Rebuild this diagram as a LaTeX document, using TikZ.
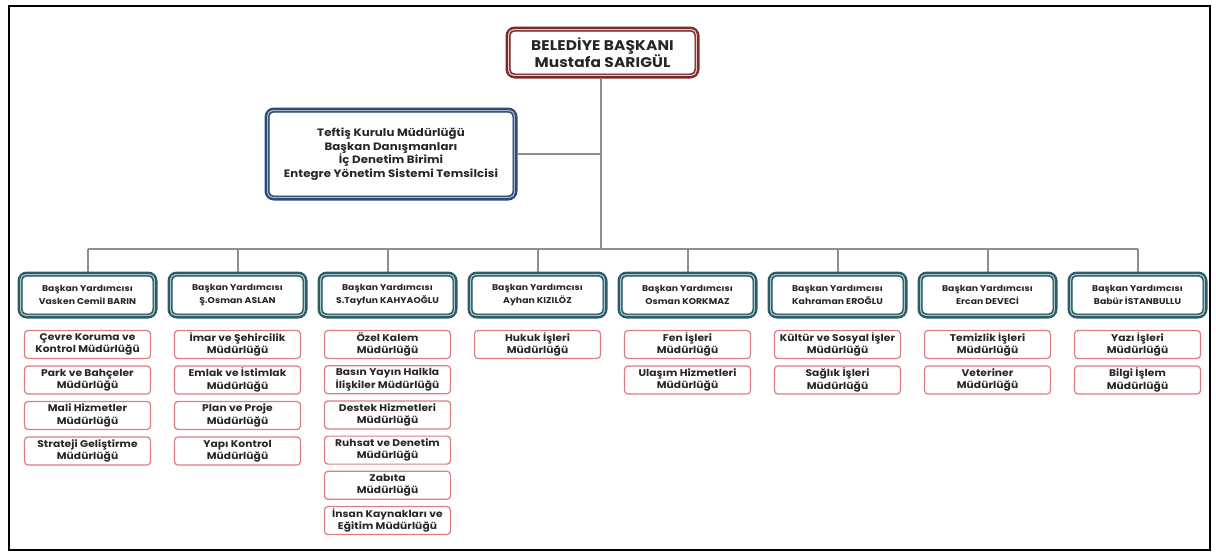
\documentclass[tikz,border=0pt]{standalone}
\usepackage{fontspec}
\setmainfont{Poppins}[FakeStretch=1.1,LetterSpace=0.8]
\usetikzlibrary{backgrounds}
\definecolor{linegray}{HTML}{8E8E8E}
\definecolor{teald}{HTML}{2D5C66}
\definecolor{teall}{HTML}{A9C7CE}
\definecolor{navyd}{HTML}{2C4B75}
\definecolor{navyl}{HTML}{A3B6CF}
\definecolor{maroond}{HTML}{7A2B2B}
\definecolor{maroonl}{HTML}{E6C9C9}
\definecolor{subred}{HTML}{DE7C83}
\definecolor{txt}{HTML}{262626}
\newcommand\innerframe[3]{%
  \draw[#2,line width=1.3pt,rounded corners=5pt] ([xshift=3.2pt,yshift=-3.2pt]#1.north west) rectangle ([xshift=-3.2pt,yshift=3.2pt]#1.south east);
  \draw[#3,line width=0.7pt,rounded corners=4pt] ([xshift=4.3pt,yshift=-4.3pt]#1.north west) rectangle ([xshift=-4.3pt,yshift=4.3pt]#1.south east);}
\tikzset{
  framed/.style={rounded corners=7pt, fill=white, align=center, text=txt, inner sep=0pt, line width=5pt},
  mayorbox/.style={framed, draw=maroond, minimum width=189pt, minimum height=47pt, font=\bfseries\fontsize{14}{15}\selectfont},
  staffbox/.style={framed, draw=navyd, minimum width=248pt, minimum height=88pt, font=\bfseries\fontsize{10.7}{13.5}\selectfont},
  depbox/.style={framed, draw=teald, minimum width=135pt, minimum height=42pt, font=\bfseries\fontsize{8.4}{12.5}\selectfont},
  subbox/.style={draw=subred, line width=1.2pt, rounded corners=3.5pt, fill=white, minimum width=126pt, minimum height=28pt, align=center, inner sep=0pt, text=txt, font=\bfseries\fontsize{9.7}{12.5}\selectfont},
  conn/.style={draw=linegray, line width=2pt},
  outerframe/.style={draw=black, line width=2pt}
}
\begin{document}
\begin{tikzpicture}[x=1pt,y=-1pt]
\useasboundingbox (0,0) rectangle (1216,552);
\draw[outerframe] (9,6) rectangle (1210,550);

\node[mayorbox] (mayor) at (602.5,52.5) {BELEDİYE BAŞKANI\\Mustafa SARIGÜL};
\innerframe{mayor}{maroonl}{maroond}
\node[staffbox] (staff) at (391,154) {Teftiş Kurulu Müdürlüğü\\Başkan Danışmanları\\İç Denetim Birimi\\Entegre Yönetim Sistemi Temsilcisi};
\innerframe{staff}{navyl}{navyd}

\foreach \n [count=\i] in {Vasken Cemil BARIN,Ş.Osman ASLAN,S.Tayfun KAHYAOĞLU,Ayhan KIZILÖZ,Osman KORKMAZ,Kahraman EROĞLU,Ercan DEVECİ,Babür İSTANBULLU}{
  \node[depbox] (d\i) at ({87.5+150*(\i-1)},295) {Başkan Yardımcısı\\\n};
  \innerframe{d\i}{teall}{teald}
}

\coordinate (hub) at (601,249);

\begin{scope}[on background layer]
  \draw[conn] (mayor.south -| hub) -- (hub);
  \draw[conn] (staff.east) -- (staff.east -| hub);
  \draw[conn] (d1.north |- hub) -- (d8.north |- hub);
  \foreach \i in {1,...,8}{\draw[conn] (d\i.north |- hub) -- (d\i.north);}
\end{scope}

\foreach \t [count=\k] in {{Çevre Koruma ve\\Kontrol Müdürlüğü},{Park ve Bahçeler\\Müdürlüğü},{Mali Hizmetler\\Müdürlüğü},{Strateji Geliştirme\\Müdürlüğü}}
  \node[subbox] (s1-\k) at (d1.center |- 0,{344.5+35.5*(\k-1)}) {\t};
\foreach \t [count=\k] in {{İmar ve Şehircilik\\Müdürlüğü},{Emlak ve İstimlak\\Müdürlüğü},{Plan ve Proje\\Müdürlüğü},{Yapı Kontrol\\Müdürlüğü}}
  \node[subbox] (s2-\k) at (d2.center |- 0,{344.5+35.5*(\k-1)}) {\t};
\foreach \t [count=\k] in {{Özel Kalem\\Müdürlüğü},{Basın Yayın Halkla\\İlişkiler Müdürlüğü},{Destek Hizmetleri\\Müdürlüğü},{Ruhsat ve Denetim\\Müdürlüğü},{Zabıta\\Müdürlüğü},{İnsan Kaynakları ve\\Eğitim Müdürlüğü}}
  \node[subbox] (s3-\k) at (d3.center |- 0,{344.5+35.2*(\k-1)}) {\t};
\foreach \t [count=\k] in {{Hukuk İşleri\\Müdürlüğü}}
  \node[subbox] (s4-\k) at (d4.center |- 0,{344.5+35.5*(\k-1)}) {\t};
\foreach \t [count=\k] in {{Fen İşleri\\Müdürlüğü},{Ulaşım Hizmetleri\\Müdürlüğü}}
  \node[subbox] (s5-\k) at (d5.center |- 0,{344.5+35.5*(\k-1)}) {\t};
\foreach \t [count=\k] in {{Kültür ve Sosyal İşler\\Müdürlüğü},{Sağlık İşleri\\Müdürlüğü}}
  \node[subbox] (s6-\k) at (d6.center |- 0,{344.5+35.5*(\k-1)}) {\t};
\foreach \t [count=\k] in {{Temizlik İşleri\\Müdürlüğü},{Veteriner\\Müdürlüğü}}
  \node[subbox] (s7-\k) at (d7.center |- 0,{344.5+35.5*(\k-1)}) {\t};
\foreach \t [count=\k] in {{Yazı İşleri\\Müdürlüğü},{Bilgi İşlem\\Müdürlüğü}}
  \node[subbox] (s8-\k) at (d8.center |- 0,{344.5+35.5*(\k-1)}) {\t};
\end{tikzpicture}
\end{document}
